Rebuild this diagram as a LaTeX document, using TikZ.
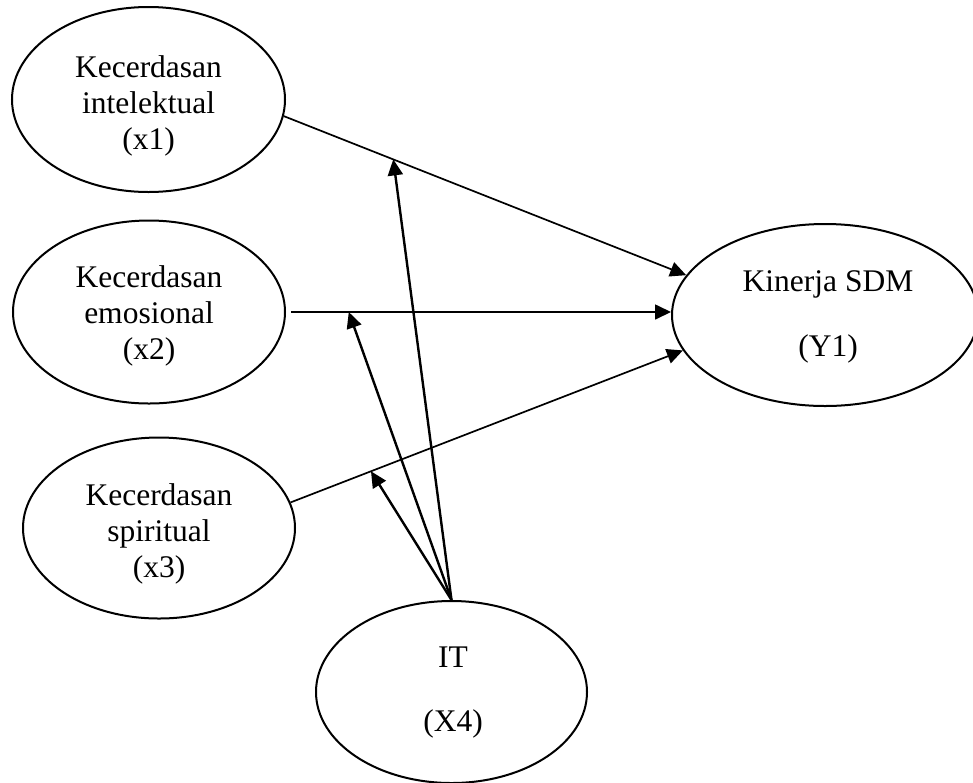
\documentclass[tikz,border=0pt]{standalone}
\usepackage{fontspec}
\setmainfont{Liberation Serif}
\usetikzlibrary{arrows.meta,calc,shapes.geometric}
\begin{document}
\begin{tikzpicture}[x=1pt,y=-1pt,
  ell/.style={draw, ellipse, line width=2pt, inner sep=0pt},
  lbl/.style={align=center, inner sep=0pt, font=\fontsize{31.5}{36}\selectfont},
  conn/.style={line width=1.7pt, -{Triangle[length=16pt,width=15pt]}},
  modarrow/.style={line width=2.4pt, -{Triangle[length=16pt,width=15pt]}}]
\useasboundingbox (0,0) rectangle (973,782);
% ellipses
\node[ell, minimum width=273pt, minimum height=185pt] (x1) at (148.5,99.5) {};
\node[lbl] (x1t) at (148.5,106) {Kecerdasan\\intelektual\\(x1)};
\node[ell, minimum width=272pt, minimum height=183pt] (x2) at (149,312) {};
\node[lbl] (x2t) at (149,316) {Kecerdasan\\emosional\\(x2)};
\node[ell, minimum width=272pt, minimum height=181pt] (x3) at (159,528) {};
\node[lbl] (x3t) at (159,534) {Kecerdasan\\spiritual\\(x3)};
\node[ell, minimum width=306pt, minimum height=182pt] (Y1) at (825,315) {};
\node[lbl] (Y1t) at (828,317) {Kinerja SDM\\[29pt](Y1)};
\node[ell, minimum width=271pt, minimum height=182pt] (IT) at (451.5,692) {};
\node[lbl] (ITt) at (453,693) {IT\\[28pt](X4)};
% direct paths
\draw[conn] (x1.-7.3) -- coordinate[pos=0.272] (m1) (Y1.164.8);
\draw[conn] ([xshift=5pt]x2.east) -- coordinate[pos=0.152] (m2) (x2.east -| Y1.west);
\draw[conn] (x3.11.9) -- coordinate[pos=0.205] (m3) (Y1.194.8);
% moderation arrows
\draw[modarrow] (IT.north) -- (m1);
\draw[modarrow] (IT.north) -- (m2);
\draw[modarrow] (IT.north) -- (m3);
\end{tikzpicture}
\end{document}
